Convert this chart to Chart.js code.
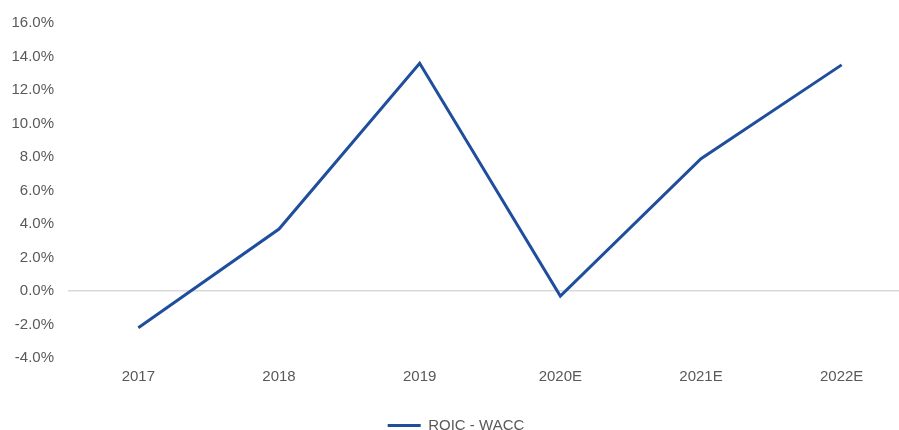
<!DOCTYPE html>
<html>
<head>
<meta charset="utf-8">
<script src="https://cdn.jsdelivr.net/npm/chart.js@4/dist/chart.umd.min.js"></script>
<style>
html,body{margin:0;padding:0;background:#fff;overflow:hidden;}
#wrap{width:912px;height:430px;}
</style>
</head>
<body>
<div id="wrap"><canvas id="spreadChart"></canvas></div>
<script>
const years = ['2017','2018','2019','2020E','2021E','2022E'];
const spread = [-2.2, 3.7, 13.6, -0.3, 7.9, 13.5];
const seriesName = 'ROIC - WACC';

const lineColor = '#1f4e9c';
const textColor = '#595959';

Chart.defaults.font.family = "'Liberation Sans', Arial, sans-serif";
Chart.defaults.font.size = 15;
Chart.defaults.color = textColor;

new Chart(
document.getElementById('spreadChart'),
{
type:'line',
data:{
labels:years,
datasets:[{
label:seriesName,
data:spread,
borderColor:lineColor,
backgroundColor:lineColor,
borderWidth:3,
pointRadius:0,
tension:0,
fill:false
}]
},
options:{
responsive:true,
maintainAspectRatio:false,
animation:false,
layout:{padding:{top:14,bottom:-13,left:0,right:0}},
plugins:{
tooltip:{enabled:false},
legend:{
position:'bottom',
labels:{
boxWidth:33,
boxHeight:3,
padding:8,
generateLabels:function(chart){
return Chart.defaults.plugins.legend.labels.generateLabels(chart).map(l=>{
l.lineWidth=0;
l.fillStyle=lineColor;
return l;
});
}
}
}
},
scales:{
x:{
offset:true,
grid:{display:false},
border:{display:false},
afterFit:function(axis){axis.height=52;},
ticks:{padding:2,maxRotation:0}
},
y:{
min:-4,
max:16,
afterFit:function(axis){axis.width=68;},
grid:{
drawTicks:false,
color:function(ctx){
return ctx.tick && ctx.tick.value===0 ? '#d9d9d9' : 'rgba(0,0,0,0)';
},
lineWidth:1.5
},
border:{display:false},
ticks:{
stepSize:2,
padding:14,
callback:function(v){return v.toFixed(1)+'%';}
}
}
}
}
}
);
</script>
</body>
</html>
